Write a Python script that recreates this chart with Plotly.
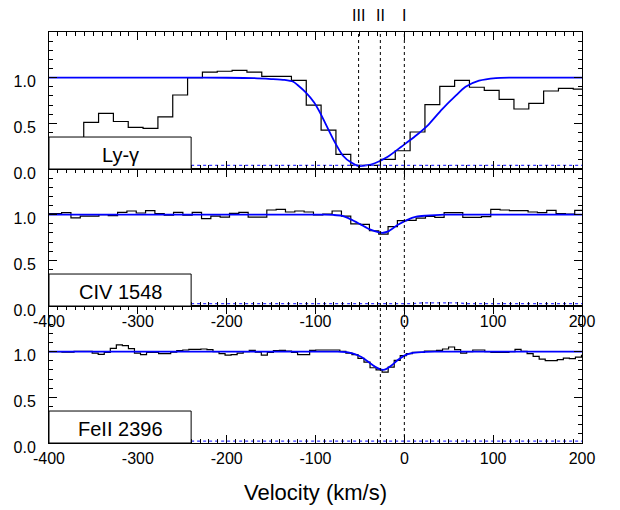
import plotly.graph_objects as go

# ---------------- data ----------------
# Ly-gamma: histogram bin edges (km/s) and normalised flux
ly_edges = [-411.0, -394.3, -377.6, -360.9, -344.2, -327.5, -310.8, -294.1, -277.4, -260.7,
            -244.0, -227.3, -210.6, -193.9, -177.2, -160.5, -143.8, -127.1, -110.4, -93.7,
            -77.0, -60.3, -43.6, -26.9, -10.2, 6.5, 23.2, 39.9, 56.6, 73.3,
            90.0, 106.7, 123.4, 140.1, 156.8, 173.5, 190.2, 206.9]
ly_flux = [0.25, 0.28, 0.32, 0.51, 0.61, 0.52, 0.455, 0.445, 0.57, 0.81,
           1.00, 1.06, 1.07, 1.08, 1.06, 1.015, 1.015, 0.97, 0.70, 0.425,
           0.16, 0.04, 0.04, 0.105, 0.20, 0.405, 0.705, 0.905, 0.97, 0.895,
           0.86, 0.763, 0.657, 0.719, 0.854, 0.883, 0.875]
ly_model_v = [-400, -250, -200, -170, -150, -135, -125, -120.5, -111, -101.5, -93.9, -86.4,
              -78.8, -69.3, -59.8, -51.5, -42.8, -33.3, -18.2, -3, 12.1, 27.3, 42.4,
              57.6, 68.9, 84.1, 103, 120, 150, 200]
ly_model = [1.0, 1.0, 0.999, 0.995, 0.985, 0.975, 0.955, 0.922, 0.838, 0.727, 0.598, 0.45,
            0.303, 0.148, 0.07, 0.033, 0.04, 0.063, 0.137, 0.247, 0.358, 0.487, 0.653,
            0.80, 0.90, 0.967, 0.996, 1.0, 1.0, 1.0]
ly_err_v = [-240, -100, 0, 100, 200]
ly_err = [0.04, 0.04, 0.038, 0.04, 0.04]

# C IV 1548
civ_edges = [-406.8, -396.3, -385.8, -375.3, -364.8, -354.3, -343.8, -333.3, -322.8, -312.3,
             -301.8, -291.3, -280.8, -270.3, -259.8, -249.3, -238.8, -228.3, -217.8, -207.3,
             -196.8, -186.3, -175.8, -165.3, -154.8, -144.3, -133.8, -123.3, -112.8, -102.3,
             -91.8, -81.3, -70.8, -60.3, -49.8, -39.3, -28.8, -18.3, -7.8, 2.8,
             13.3, 23.8, 34.3, 44.8, 55.3, 65.8, 76.3, 86.8, 97.3, 107.8,
             118.3, 128.8, 139.3, 149.8, 160.3, 170.8, 181.3, 191.8, 202.3]
civ_flux = [1.011, 1.011, 1.022, 0.964, 0.985, 0.985, 1.0, 0.989, 1.026, 1.04,
            1.018, 1.044, 1.011, 0.996, 1.026, 0.996, 1.026, 0.956, 0.985, 0.974,
            1.015, 1.026, 0.974, 0.974, 1.051, 1.058, 1.029, 1.04, 1.029, 0.997,
            1.007, 1.04, 0.985, 0.90, 0.894, 0.824, 0.788, 0.868, 0.934, 0.938,
            0.963, 0.982, 0.971, 1.022, 1.022, 0.971, 0.971, 0.978, 1.059, 1.051,
            1.044, 1.044, 1.029, 1.022, 1.048, 1.011, 1.007, 1.048]
civ_model_v = [-400, -90, -80, -70.75, -60.25, -49.4, -38.9, -28.4, -23.9, -18.25, -7.75,
               2.75, 13.6, 24.1, 35, 44.75, 200]
civ_model = [1.0, 1.0, 0.997, 0.989, 0.949, 0.894, 0.839, 0.806, 0.802, 0.817, 0.886,
             0.941, 0.978, 0.989, 0.996, 1.0, 1.0]
civ_err_v = [-240, 10, 20, 60, 70, 200]
civ_err = [0.025, 0.025, 0.034, 0.034, 0.025, 0.025]

# Fe II 2396
fe_edges = [-405.8, -399.0, -392.2, -385.4, -378.6, -371.8, -365.0, -358.2, -351.4, -344.6,
            -337.8, -331.0, -324.2, -317.4, -310.6, -303.8, -297.0, -290.2, -283.4, -276.6,
            -269.8, -263.0, -256.2, -249.4, -242.6, -235.8, -229.0, -222.2, -215.4, -208.6,
            -201.8, -195.0, -188.2, -181.4, -174.6, -167.8, -161.0, -154.2, -147.4, -140.6,
            -133.8, -127.0, -120.2, -113.4, -106.6, -99.8, -93.0, -86.2, -79.4, -72.6,
            -65.8, -59.0, -52.2, -45.4, -38.6, -31.8, -25.0, -18.2, -11.4, -4.6,
            2.2, 9.0, 15.8, 22.6, 29.4, 36.2, 43.0, 49.8, 56.6, 63.4,
            70.2, 77.0, 83.8, 90.6, 97.4, 104.2, 111.0, 117.8, 124.6, 131.4,
            138.2, 145.0, 151.8, 158.6, 165.4, 172.2, 179.0, 185.8, 192.6, 199.4,
            206.2]
fe_flux = [1.0, 1.0, 1.0, 0.996, 0.996, 1.004, 1.004, 1.004, 0.985, 0.971,
           0.993, 1.037, 1.074, 1.066, 1.033, 0.985, 0.967, 0.993, 0.993, 0.978,
           0.978, 0.996, 1.011, 1.018, 1.026, 1.026, 1.029, 1.022, 1.0, 0.978,
           0.963, 0.967, 0.985, 1.0, 1.015, 0.996, 0.963, 0.993, 1.011, 1.015,
           1.007, 0.993, 0.967, 0.967, 1.015, 1.018, 1.018, 1.018, 1.018, 1.004,
           0.985, 0.967, 0.926, 0.886, 0.824, 0.801, 0.776, 0.831, 0.904, 0.956,
           0.978, 0.993, 0.993, 1.007, 1.007, 1.015, 1.029, 1.051, 1.022, 0.985,
           1.0, 1.018, 1.018, 1.0, 0.993, 0.993, 0.993, 1.0, 1.026, 1.004,
           0.978, 0.949, 0.919, 0.901, 0.901, 0.912, 0.930, 0.923, 0.941, 0.96]
fe_model_v = [-400, -75, -63.25, -55.75, -48.25, -40.75, -33.25, -27.6, -23.9, -20.1,
              -14.5, -7, 0.5, 8, 19.25, 34.25, 200]
fe_model = [1.0, 1.0, 0.993, 0.974, 0.941, 0.89, 0.838, 0.809, 0.801, 0.812,
            0.849, 0.912, 0.96, 0.985, 0.996, 1.0, 1.0]
fe_err_v = [-240, 200]
fe_err = [0.02, 0.02]

# component velocities and labels
comp_labels = ["III", "II", "I"]
comp_v = [-51.5, -27.0, 0.0]

panel_labels = ["Ly-\u03b3", "CIV 1548", "FeII 2396"]

x_tickvals = [-400, -300, -200, -100, 0, 100, 200]
x_ticktext = ["-400", "-300", "-200", "-100", "0", "100", "200"]
y_tickvals = [0.0, 0.5, 1.0]
y_ticktext = ["0.0", "0.5", "1.0"]

# ---------------- figure ----------------
FONT = "Liberation Sans, Arial, Helvetica, sans-serif"
fig = go.Figure()

panels = [
    (ly_edges, ly_flux, ly_model_v, ly_model, ly_err_v, ly_err, "x", "y"),
    (civ_edges, civ_flux, civ_model_v, civ_model, civ_err_v, civ_err, "x2", "y2"),
    (fe_edges, fe_flux, fe_model_v, fe_model, fe_err_v, fe_err, "x3", "y3"),
]

for edges, flux, mv, m, ev, e, xa, ya in panels:
    fig.add_trace(go.Scatter(x=edges, y=flux + [flux[-1]], mode="lines",
                             line=dict(shape="hv", color="black", width=1.2),
                             xaxis=xa, yaxis=ya, showlegend=False, hoverinfo="skip"))
    fig.add_trace(go.Scatter(x=mv, y=m, mode="lines",
                             line=dict(shape="spline", smoothing=0.6, color="#0000ff", width=1.8),
                             xaxis=xa, yaxis=ya, showlegend=False, hoverinfo="skip"))
    fig.add_trace(go.Scatter(x=ev, y=e, mode="lines",
                             line=dict(color="#3a3aff", width=1.3, dash="dot"),
                             xaxis=xa, yaxis=ya, showlegend=False, hoverinfo="skip"))

shapes = []
annotations = []
BOX_X0, BOX_X1, BOX_TOP = -400, -240, 0.35
for i, (xa, ya) in enumerate([("x", "y"), ("x2", "y2"), ("x3", "y3")]):
    vlist = comp_v if i == 0 else comp_v[1:]
    for v in vlist:
        shapes.append(dict(type="line", xref=xa, yref=ya + " domain", x0=v, x1=v, y0=0, y1=1,
                           line=dict(color="black", width=1, dash="dot"), layer="above"))
    shapes.append(dict(type="rect", xref=xa, yref=ya, x0=BOX_X0, x1=BOX_X1, y0=0, y1=BOX_TOP,
                       fillcolor="white", line=dict(color="black", width=1), layer="above"))
    annotations.append(dict(text=panel_labels[i], xref=xa, yref=ya, x=(BOX_X0 + BOX_X1) / 2,
                            y=0.15, showarrow=False, font=dict(family=FONT, size=20, color="black"),
                            xanchor="center", yanchor="middle"))

for lab, v in zip(comp_labels, comp_v):
    annotations.append(dict(text=lab, xref="x", yref="paper", x=v, y=1, yshift=17,
                            showarrow=False, xanchor="center", yanchor="middle",
                            font=dict(family=FONT, size=16, color="black")))

annotations.append(dict(text="Velocity (km/s)", xref="paper", yref="paper", x=0.5, y=0,
                        yshift=-49, showarrow=False, xanchor="center", yanchor="middle",
                        font=dict(family=FONT, size=22, color="black")))

fig.update_layout(shapes=shapes, annotations=annotations)

xcommon = dict(range=[-400, 200], showline=True, linecolor="black", linewidth=1, mirror="allticks",
               ticks="inside", ticklen=8, tickcolor="black", tickwidth=1, automargin=False,
               tickvals=x_tickvals, ticktext=x_ticktext, showgrid=False, zeroline=False,
               tickfont=dict(family=FONT, size=16, color="black"), ticklabelstandoff=1,
               minor=dict(ticks="inside", ticklen=4, dtick=10, tickcolor="black", tickwidth=1, showgrid=False))
ycommon = dict(range=[0, 1.5], showline=True, linecolor="black", linewidth=1, mirror="allticks",
               ticks="inside", ticklen=8, tickcolor="black", tickwidth=1, automargin=False,
               tickvals=y_tickvals, ticktext=y_ticktext, showgrid=False, zeroline=False,
               tickfont=dict(family=FONT, size=16, color="black"), ticklabelshift=4,
               ticklabelstandoff=9,
               minor=dict(ticks="inside", ticklen=4, dtick=0.1, tickcolor="black", tickwidth=1, showgrid=False))

third = 1 / 3
# page body adds an 8px offset, so the figure is 8px smaller than the window
fig.update_layout(
    width=612, height=502,
    margin=dict(l=41, r=38, t=24, b=67, autoexpand=False),
    paper_bgcolor="white", plot_bgcolor="white",
    xaxis=dict(**xcommon, anchor="y", showticklabels=False),
    xaxis2=dict(**xcommon, anchor="y2", showticklabels=True),
    xaxis3=dict(**xcommon, anchor="y3", showticklabels=True),
    yaxis=dict(**ycommon, anchor="x", domain=[2 * third, 1]),
    yaxis2=dict(**ycommon, anchor="x2", domain=[third, 2 * third]),
    yaxis3=dict(**ycommon, anchor="x3", domain=[0, third]),
    showlegend=False,
)

fig.write_html("out.html")
